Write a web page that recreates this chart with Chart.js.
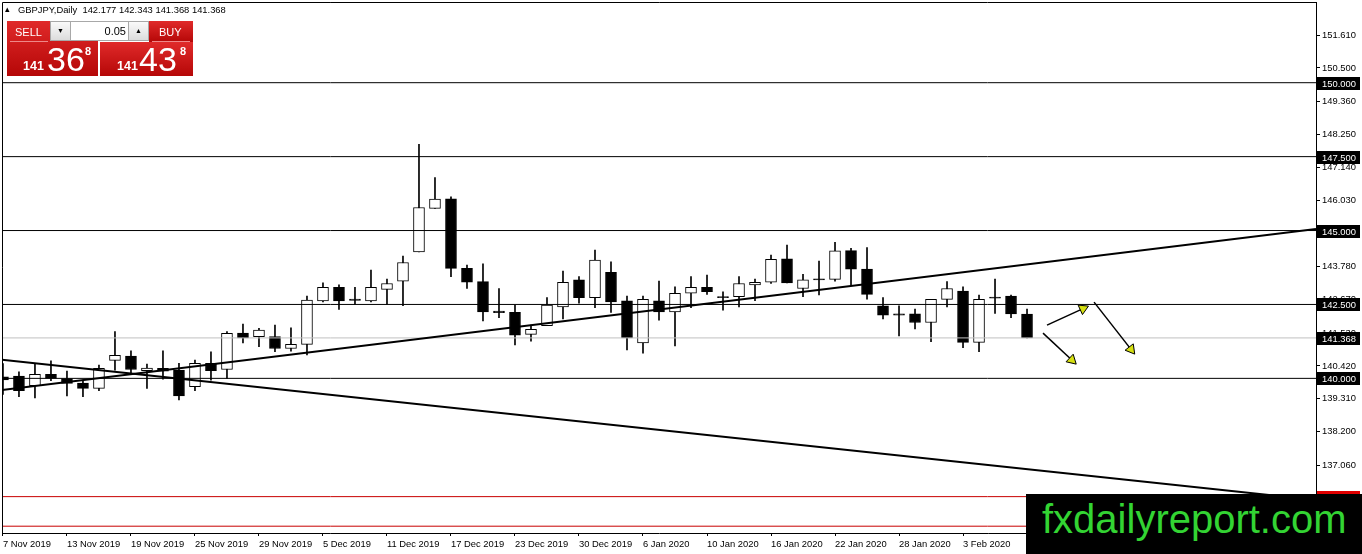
<!DOCTYPE html>
<html><head><meta charset="utf-8">
<script src="https://cdn.jsdelivr.net/npm/chart.js@4/dist/chart.umd.min.js"></script>
<style>
html,body{margin:0;padding:0;background:#fff;overflow:hidden}
#wrap{position:relative;width:1362px;height:554px;font-family:'Liberation Sans',Arial,sans-serif}
#c{position:absolute;left:0;top:0}
.abs{position:absolute;white-space:pre;line-height:1}
.hdr{left:18px;top:5px;font-size:9.4px;color:#000}
.tri{left:5px;top:5px;font-size:9px;color:#000}
.red{position:absolute;background:linear-gradient(#e02a2a,#b50707);}
.lbl{color:#fff;font-size:11px}
.big{color:#fff;font-size:34px}
.sm{color:#fff;font-size:12.5px;font-weight:bold}
.sup{color:#fff;font-size:11px;font-weight:bold}
.btn{position:absolute;background:linear-gradient(#fafafa,#dcdcdc);border:1px solid #a8a8a8;box-sizing:border-box;font-size:7px;color:#000;text-align:center;line-height:18px}
.inp{position:absolute;background:#fff;border-top:1px solid #a8a8a8;border-bottom:1px solid #a8a8a8;box-sizing:border-box;font-size:11px;color:#000;text-align:right;line-height:18px;padding-right:2px}
#wm{position:absolute;left:1026px;top:494px;width:336px;height:60px;background:#000}
#wm span{position:absolute;left:16px;top:5px;font-size:40px;color:#33d433;line-height:1;white-space:pre}
</style></head>
<body><div id="wrap">
<canvas id="c" width="1362" height="554"></canvas>
<div class="abs tri">▴</div>
<div class="abs hdr">GBPJPY,Daily  142.177 142.343 141.368 141.368</div>
<div class="red" style="left:7px;top:21px;width:91px;height:55px"></div>
<div class="red" style="left:100px;top:42px;width:93px;height:34px"></div>
<div class="red" style="left:149px;top:21px;width:44px;height:21px"></div>
<div style="position:absolute;left:10px;top:41px;width:38px;height:1px;background:#e88"></div>
<div style="position:absolute;left:152px;top:41px;width:38px;height:1px;background:#e88"></div>
<div class="abs lbl" style="left:15px;top:27px">SELL</div>
<div class="abs lbl" style="left:159px;top:27px">BUY</div>
<div class="btn" style="left:50px;top:21px;width:21px;height:20px">▼</div>
<div class="inp" style="left:71px;top:21px;width:57px;height:20px">0.05</div>
<div class="btn" style="left:128px;top:21px;width:21px;height:20px">▲</div>
<div class="abs sm" style="left:23px;top:60px">141</div>
<div class="abs big" style="left:47px;top:42px">36</div>
<div class="abs sup" style="left:85px;top:46px">8</div>
<div class="abs sm" style="left:117px;top:60px">141</div>
<div class="abs big" style="left:139px;top:42px">43</div>
<div class="abs sup" style="left:180px;top:46px">8</div>
<div id="wm"><span>fxdailyreport.com</span></div>
</div>
<script>
// GBPJPY daily bars, 7 Nov 2019 .. 7 Feb 2020
const dates=['7 Nov 2019','8 Nov 2019','11 Nov 2019','12 Nov 2019','13 Nov 2019','14 Nov 2019','15 Nov 2019','18 Nov 2019','19 Nov 2019','20 Nov 2019',
  '21 Nov 2019','22 Nov 2019','25 Nov 2019','26 Nov 2019','27 Nov 2019','28 Nov 2019','29 Nov 2019','2 Dec 2019','3 Dec 2019','4 Dec 2019',
  '5 Dec 2019','6 Dec 2019','9 Dec 2019','10 Dec 2019','11 Dec 2019','12 Dec 2019','13 Dec 2019','16 Dec 2019','17 Dec 2019','18 Dec 2019',
  '19 Dec 2019','20 Dec 2019','23 Dec 2019','24 Dec 2019','26 Dec 2019','27 Dec 2019','30 Dec 2019','31 Dec 2019','2 Jan 2020','3 Jan 2020',
  '6 Jan 2020','7 Jan 2020','8 Jan 2020','9 Jan 2020','10 Jan 2020','13 Jan 2020','14 Jan 2020','15 Jan 2020','16 Jan 2020','17 Jan 2020',
  '20 Jan 2020','21 Jan 2020','22 Jan 2020','23 Jan 2020','24 Jan 2020','27 Jan 2020','28 Jan 2020','29 Jan 2020','30 Jan 2020','31 Jan 2020',
  '3 Feb 2020','4 Feb 2020','5 Feb 2020','6 Feb 2020','7 Feb 2020'];
const opens=[140.05,140.08,139.75,140.14,139.99,139.84,139.66,140.61,140.75,140.26,
  140.34,140.28,139.72,140.51,140.30,141.53,141.41,141.41,141.01,141.15,
  142.62,143.08,142.68,142.62,143.01,143.29,144.28,145.75,146.07,143.72,
  143.27,142.28,142.23,141.49,141.78,142.42,143.33,142.73,143.59,142.62,
  141.20,142.62,142.25,142.88,143.08,142.76,142.76,143.16,143.25,144.04,
  143.04,143.37,143.35,144.32,143.70,142.45,142.18,142.18,141.89,142.67,
  142.95,141.22,142.75,142.78,142.177];
const highs=[140.50,140.22,140.48,140.59,140.25,139.94,140.45,141.58,140.93,140.48,
  140.93,140.51,140.62,140.90,141.58,141.84,141.69,141.80,141.71,142.78,
  143.23,143.16,143.08,143.66,143.36,144.14,147.92,146.79,146.14,143.83,
  143.87,143.04,142.48,141.80,142.73,143.63,143.44,144.34,143.94,142.78,
  142.78,143.29,143.10,143.44,143.49,142.93,143.44,143.36,144.17,144.51,
  143.52,143.97,144.60,144.40,144.42,142.73,142.45,142.34,142.67,143.27,
  143.10,142.82,143.36,142.82,142.343];
const lows=[139.46,139.38,139.34,139.92,139.41,139.38,139.58,140.28,140.17,139.66,
  139.97,139.27,139.58,139.94,140.00,141.20,141.07,140.90,140.92,140.79,
  142.59,142.33,142.50,142.59,142.50,142.46,144.28,145.75,143.44,143.04,
  141.94,142.05,141.13,141.26,141.78,142.01,142.54,142.39,142.23,140.96,
  140.85,141.97,141.10,142.39,142.84,142.31,142.42,142.63,143.21,143.23,
  142.76,142.82,143.29,143.16,142.68,142.01,141.44,141.67,141.24,142.42,
  141.04,140.90,142.20,142.05,141.368];
const closes=[139.95,139.58,140.14,140.00,139.83,139.66,140.34,140.78,140.30,140.35,
  140.24,139.41,140.51,140.26,141.52,141.37,141.63,141.01,141.15,142.65,
  143.08,142.62,142.64,143.08,143.21,143.92,145.78,146.06,143.72,143.25,
  142.25,142.22,141.46,141.66,142.48,143.25,142.73,144.00,142.59,141.37,
  142.67,142.25,142.88,143.08,142.93,142.73,143.21,143.25,144.03,143.23,
  143.33,143.33,144.31,143.69,142.84,142.14,142.14,141.89,142.67,143.04,
  141.22,142.67,142.71,142.18,141.368];

const dateTicks=[0,4,8,12,16,20,24,28,32,36,40,44,48,52,56,60];
const priceTicks=[151.61,150.50,149.36,148.25,147.14,146.03,144.89,143.78,142.67,141.53,140.42,139.31,138.20,137.06,135.95];
const blackLevels=[150,147.5,145,142.5,140];
const redLevels=[136,135];
const bidPrice=141.368;
// trend lines: [barIndex, price] pairs
const upTrend=[[-0.06,139.61],[82.06,145.05]];
const downTrend=[[-0.06,140.63],[82.06,135.89]];
const arrows=[[[65.25,141.80],[67.5,142.36]],[[68.19,142.58],[70.5,140.98]],[[65.0,141.53],[66.8,140.62]]];

const xMin=-0.06,xMax=82.06,yMin=134.77,yMax=152.73;
const FONT={family:"'Liberation Sans', Arial, sans-serif",size:9.4};
Chart.defaults.font.family=FONT.family;

const idx=dates.map((d,i)=>i);
const bull=idx.map(i=>closes[i]>opens[i]);

const hline=(v,color)=>({type:'line',data:[{x:xMin,y:v},{x:xMax,y:v}],borderColor:color,borderWidth:1,pointRadius:0,order:-1});
const seg=(pts,w)=>({type:'line',data:pts.map(p=>({x:p[0],y:p[1]})),borderColor:'#000',borderWidth:w,pointRadius:0,order:-2});

const arrowSets=arrows.map(a=>({type:'line',data:a.map(p=>({x:p[0],y:p[1]})),borderColor:'#000',borderWidth:1.5,
  pointStyle:'triangle',pointRadius:[0,6],pointBorderWidth:1,pointBorderColor:'#000',pointBackgroundColor:'#d6e010',order:-3,
  rotation:c=>{const s=c.chart.scales;const dx=s.x.getPixelForValue(a[1][0])-s.x.getPixelForValue(a[0][0]);
    const dy=s.y.getPixelForValue(a[1][1])-s.y.getPixelForValue(a[0][1]);return Math.atan2(dy,dx)*180/Math.PI+90;}}));

const levelTags={id:'levelTags',afterDraw(chart){
  const {ctx,scales:{y},chartArea}=chart;
  ctx.save();
  // frame left/top
  ctx.strokeStyle='#000';ctx.lineWidth=1;
  ctx.beginPath();ctx.moveTo(chartArea.left+0.5,chartArea.bottom);ctx.lineTo(chartArea.left+0.5,chartArea.top+0.5);ctx.lineTo(chartArea.right,chartArea.top+0.5);ctx.stroke();
  ctx.font='9.4px '+FONT.family;ctx.textBaseline='middle';ctx.textAlign='left';
  const tags=blackLevels.map(v=>[v,'#000']).concat([[bidPrice,'#000'],[redLevels[0],'#e00000']]);
  tags.forEach(([v,bg])=>{const py=Math.round(y.getPixelForValue(v));
    ctx.fillStyle=bg;ctx.fillRect(chartArea.right+1,py-6,43,13);
    ctx.fillStyle='#fff';ctx.fillText(v.toFixed(3),chartArea.right+6,py+1);});
  ctx.restore();}};

const noPad=s=>{s.paddingTop=0;s.paddingBottom=0;s.paddingLeft=0;s.paddingRight=0;};

new Chart(document.getElementById('c'),{
  type:'bar',
  data:{datasets:[
    {label:'bodies',data:idx.map(i=>({x:i,y:[opens[i],closes[i]]})),barThickness:11,minBarLength:1,grouped:false,
      backgroundColor:bull.map(b=>b?'#fff':'#000'),borderColor:'#000',borderWidth:1,borderSkipped:false,order:0},
    {label:'wicks',data:idx.map(i=>({x:i,y:[lows[i],highs[i]]})),barThickness:1,grouped:false,
      backgroundColor:'#000',borderWidth:0,order:1},
    ...blackLevels.map(v=>hline(v,'#000')),
    hline(bidPrice,'#c0c0c0'),
    ...redLevels.map(v=>hline(v,'#c80000')),
    seg(upTrend,2),seg(downTrend,2),
    ...arrowSets
  ]},
  options:{
    responsive:false,animation:false,devicePixelRatio:1,
    layout:{autoPadding:false,padding:{left:2,top:2,right:0,bottom:0}},
    plugins:{legend:{display:false},tooltip:{enabled:false}},
    events:[],
    scales:{
      x:{type:'linear',min:xMin,max:xMax,offset:false,
        afterBuildTicks:s=>{s.ticks=dateTicks.map(v=>({value:v}));},
        afterFit:s=>{s.height=21;noPad(s);},
        grid:{offset:false,drawOnChartArea:false,drawTicks:true,tickLength:3,color:'#000'},
        border:{display:true,color:'#000'},
        ticks:{align:'start',autoSkip:false,maxRotation:0,padding:3,color:'#000',font:FONT,callback:v=>dates[v]}},
      y:{type:'linear',position:'right',min:yMin,max:yMax,
        afterBuildTicks:s=>{s.ticks=priceTicks.map(v=>({value:v}));},
        afterFit:s=>{s.width=46;noPad(s);},
        grid:{drawOnChartArea:false,tickLength:4,color:'#000'},
        border:{display:true,color:'#000'},
        ticks:{padding:2,color:'#000',font:FONT,callback:v=>v.toFixed(3)}}
    }
  },
  plugins:[levelTags]
});
</script>
</body></html>
